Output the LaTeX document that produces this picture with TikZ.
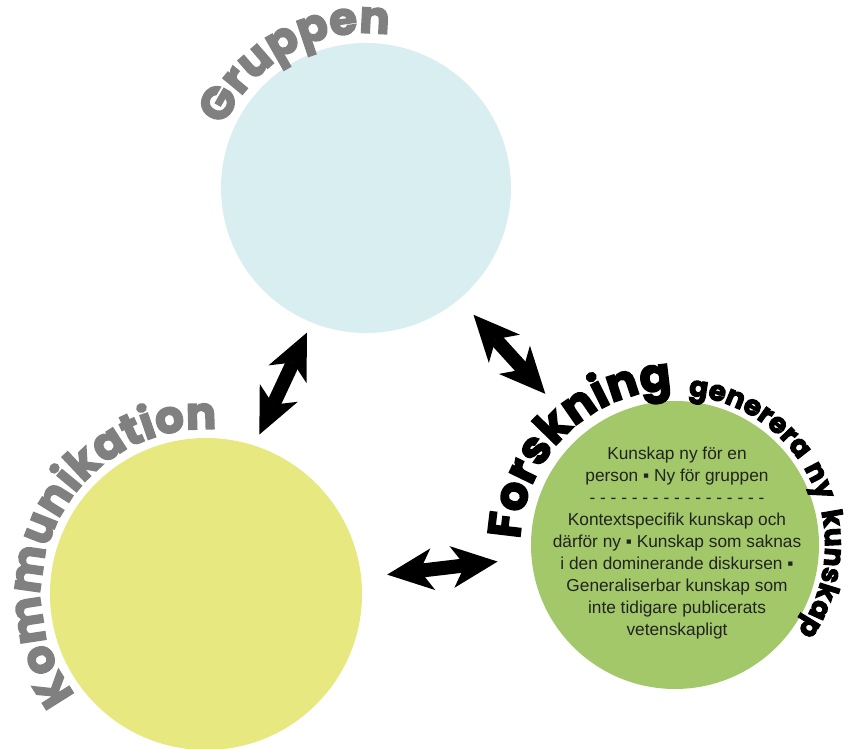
\documentclass[tikz,border=0pt]{standalone}
\usepackage{fontspec}
\setmainfont{Liberation Sans}
\newfontfamily\headfont{Poppins}[BoldFeatures={FakeBold=3.5}]
\usetikzlibrary{arrows.meta,decorations.text}

\definecolor{grpblue}{HTML}{D9EEF1}
\definecolor{komyellow}{HTML}{E8E880}
\definecolor{fskgreen}{HTML}{A2C86A}
\definecolor{titlegray}{HTML}{808080}
\definecolor{bodyink}{HTML}{222222}

\newcommand\subhead{\headfont\bfseries\fontsize{28}{28}\selectfont}

\begin{document}
\begin{tikzpicture}[x=1pt,y=1pt,
  disc/.style={circle, inner sep=0pt, draw=none},
  dblarrow/.style={line width=14pt,
    >={Stealth[length=46pt,width=42pt,inset=13pt,line width=0pt]}, <->},
]
\useasboundingbox (0,0) rectangle (854,749);

% the three circles
\node[disc, fill=grpblue,   minimum size=290pt] (grp) at (366,561) {};
\node[disc, fill=komyellow, minimum size=312pt] (kom) at (206,155) {};
\node[disc, fill=fskgreen,  minimum size=288pt] (fsk) at (675,204) {};

% headings set along the circles
\path[decorate, decoration={text along path, text align=center, text color=titlegray,
  text={|\headfont\bfseries\fontsize{45}{45}\selectfont|Gruppen}}]
  (grp.center) ++(175:155) arc[start angle=175, end angle=63, radius=155];

\path[decorate, decoration={text along path, text align=center, text color=titlegray,
  text={|\headfont\bfseries\fontsize{45}{45}\selectfont|Kommunikation}}]
  (kom.center) ++(238:165) arc[start angle=238, end angle=66, radius=165];

\path[decorate, decoration={text along path, text align=right, text color=black,
  text={|\headfont\bfseries\fontsize{46}{46}\selectfont|Forskning}}]
  (fsk.center) ++(215:155) arc[start angle=215, end angle=91, radius=155];

% subheading, word by word around the research circle
\path[decorate, decoration={text along path, text align=left, text color=black,
  text={|\subhead|generera}}]
  (fsk.center) ++(85:150) arc[start angle=85, end angle=20, radius=150];
\path[decorate, decoration={text along path, text align=left, text color=black,
  text={|\subhead|ny}}]
  (fsk.center) ++(31:150) arc[start angle=31, end angle=0, radius=150];
\path[decorate, decoration={text along path, text align=left, text color=black,
  text={|\subhead|kunskap}}]
  (fsk.center) ++(13:150) arc[start angle=13, end angle=-60, radius=150];

% text inside the research circle
\node[align=center, text=bodyink, font=\fontsize{17.3}{21.9}\selectfont] (fsktext)
  at (677,206) {Kunskap ny för en\\ person ▪ Ny för gruppen\\
  - - - - - - - - - - - - - - - - -\\
  Kontextspecifik kunskap och\\ därför ny ▪ Kunskap som saknas\\
  i den dominerande diskursen ▪\\ Generaliserbar kunskap som\\
  inte tidigare publicerats\\ vetenskapligt};

% double arrows between the circles
\draw[dblarrow, shorten <=12pt, shorten >=11pt] (kom.72) -- (grp.248);
\draw[dblarrow, shorten <=21pt, shorten >=55pt] (grp.310) -- (fsk.130);
\draw[dblarrow, shorten <=26pt, shorten >=34pt] (kom.6.6) -- (fsk.185.5);
\end{tikzpicture}
\end{document}
